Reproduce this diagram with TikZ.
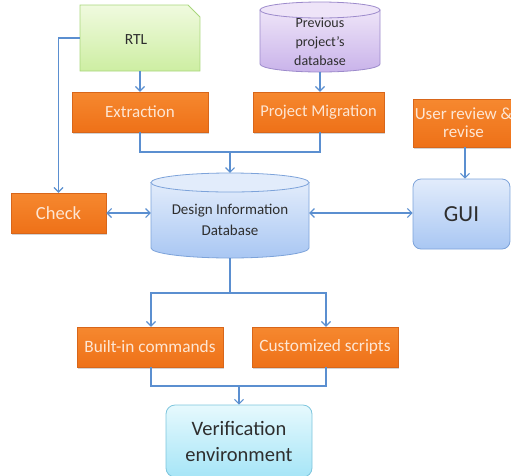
\documentclass[tikz,border=0pt]{standalone}
\usepackage{fontspec}
\setmainfont{Carlito}
\usetikzlibrary{arrows.meta,shadows,calc}
\definecolor{orngtop}{HTML}{F6882F}
\definecolor{orngbot}{HTML}{EE7118}
\definecolor{orngdraw}{HTML}{D8661A}
\definecolor{orngtext}{HTML}{FDE6D4}
\definecolor{lineblue}{HTML}{5B8FD0}
\definecolor{dbtop}{HTML}{E2ECFB}
\definecolor{dbbot}{HTML}{A9C7F3}
\definecolor{dbdraw}{HTML}{7DA3DA}
\definecolor{pptop}{HTML}{EEE4F8}
\definecolor{ppbot}{HTML}{C9B3EA}
\definecolor{ppdraw}{HTML}{9C8ACB}
\definecolor{grtop}{HTML}{F0FADF}
\definecolor{grbot}{HTML}{CDEEA2}
\definecolor{grdraw}{HTML}{A9D67C}
\definecolor{vftop}{HTML}{E6F9FD}
\definecolor{vfbot}{HTML}{A6E5F7}
\definecolor{vfdraw}{HTML}{7DC5DD}
\definecolor{darktext}{HTML}{2E2E2E}
\tikzset{
  obox/.style={rectangle, draw=orngdraw, line width=0.5pt, top color=orngtop, bottom color=orngbot,
    text=orngtext, font=\fontsize{17}{18}\selectfont, inner sep=0pt, align=center,
    drop shadow={opacity=0.35, shadow xshift=1pt, shadow yshift=-1.5pt}},
  conn/.style={draw=lineblue, line width=1.1pt},
  arr/.style={conn, -{Straight Barb[length=4.5pt,width=9pt]}},
  darr/.style={conn, {Straight Barb[length=4.5pt,width=9pt]}-{Straight Barb[length=4.5pt,width=9pt]}},
  lbl/.style={inner sep=0pt, align=center, text=darktext},
}
\begin{document}
\begin{tikzpicture}[x=1pt,y=-1pt]
\useasboundingbox (0,0) rectangle (511,475);
% RTL snipped box
\path[draw=grdraw, line width=0.8pt, top color=grtop, bottom color=grbot]
  (80,5) -- (188,5) -- (200,17) -- (200,71) -- (80,71) -- cycle;
\node[lbl, minimum width=120pt, minimum height=66pt] (rtl) at (140,38) {};
\node[lbl, font=\fontsize{15.5}{16}\selectfont] (rtltext) at (136,40) {RTL};
% previous project's database cylinder
\path[draw=ppdraw, line width=0.8pt, top color=pptop, bottom color=ppbot]
  (260,10) -- (260,64) arc[start angle=180, end angle=0, x radius=60, y radius=8] -- (380,10) -- cycle;
\path[draw=ppdraw, line width=0.8pt, fill=pptop] (320,10) ellipse[x radius=60, y radius=8];
\node[lbl, minimum width=120pt, minimum height=70pt] (prev) at (320,37) {};
\node[lbl, font=\fontsize{14}{19}\selectfont] (prevtext) at (320,42) {Previous\\project's\\database};
% orange boxes
\node[obox, minimum width=136pt, minimum height=40pt] (ext) at (140,112) {Extraction};
\node[obox, minimum width=131pt, minimum height=40pt, font=\fontsize{16.5}{18}\selectfont] (mig) at (318.5,112) {Project Migration};
\node[obox, minimum width=101pt, minimum height=48pt, font=\fontsize{17}{18}\selectfont] (usr) at (463.5,123) {User review \&\\revise};
\node[obox, minimum width=95pt, minimum height=40pt, font=\fontsize{18.5}{18}\selectfont] (chk) at (58.5,213) {Check};
\node[obox, minimum width=146pt, minimum height=40pt, font=\fontsize{17.3}{18}\selectfont] (bic) at (150,347) {Built-in commands};
\node[obox, minimum width=146pt, minimum height=40pt, font=\fontsize{17.3}{18}\selectfont] (cus) at (325,347) {Customized scripts};
% design DB cylinder
\path[draw=dbdraw, line width=0.8pt, top color=dbtop, bottom color=dbbot]
  (151,182.5) -- (151,248) arc[start angle=180, end angle=0, x radius=79, y radius=10] -- (309,182.5) -- cycle;
\path[draw=dbdraw, line width=0.8pt, fill=dbtop] (230,182.5) ellipse[x radius=79, y radius=9.5];
\node[lbl, minimum width=158pt, minimum height=85pt] (db) at (230,215.5) {};
\node[lbl, font=\fontsize{15}{21}\selectfont] (dbtext) at (230,220) {Design Information\\Database};
% GUI
\node[lbl, draw=dbdraw, line width=0.8pt, top color=dbtop, bottom color=dbbot, rounded corners=8pt,
  minimum width=97pt, minimum height=70pt, font=\fontsize{23}{26}\selectfont] (gui) at (461.5,214) {GUI};
% Verification
\node[lbl, draw=vfdraw, line width=0.8pt, top color=vftop, bottom color=vfbot, rounded corners=9pt,
  minimum width=146pt, minimum height=72pt, font=\fontsize{20.5}{26}\selectfont] (ver) at (239,441) {Verification\\environment};
% connectors
\coordinate (m1) at (230,152);
\coordinate (m2) at (230,293);
\coordinate (m3) at (239,386);
\draw[arr] (rtl.south) -- (ext.north);
\draw[arr] ($(prev.south)+(0,-0.5)$) -- (mig.north -| prev.south);
\draw[conn] (ext.south) |- (m1);
\draw[conn] (mig.south -| prev.south) |- (m1);
\draw[arr] (m1) -- (db.north);
\draw[arr] (rtl.west) -| (chk.north);
\draw[darr] (chk.east) -- (chk.east -| db.west);
\draw[darr] (db.east |- chk.east) -- (gui.west |- chk.east);
\draw[arr] (usr.south -| 465,0) -- (gui.north -| 465,0);
\draw[conn] (db.south) -- (m2);
\draw[arr] (m2) -| (bic.north -| 151,0);
\draw[arr] (m2) -| (cus.north -| 326,0);
\draw[conn] (bic.south -| 151,0) |- (m3);
\draw[conn] (cus.south -| 326,0) |- (m3);
\draw[arr] (m3) -- (ver.north);
\end{tikzpicture}
\end{document}
